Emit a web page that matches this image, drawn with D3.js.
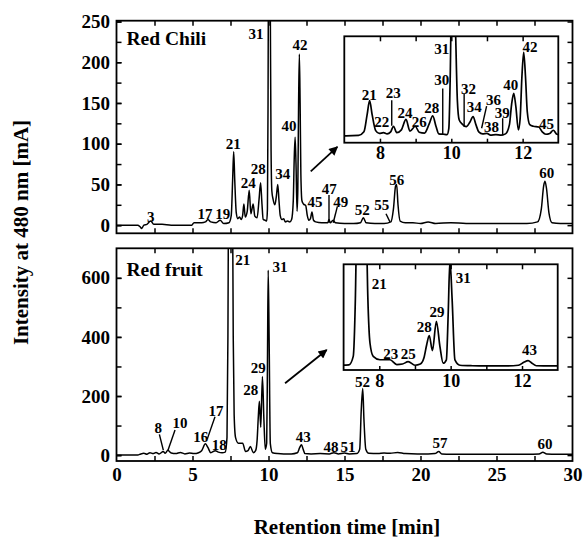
<!DOCTYPE html>
<html>
<head>
<meta charset="utf-8">
<script src="https://cdn.jsdelivr.net/npm/d3@7"></script>
<style>
  body { margin: 0; background: #fff; }
</style>
</head>
<body>
<div id="chart"></div>
<script>
// ---- data: [retention time (min), intensity (mA)] ----
const chiliTrace = [
  [0, 0], [0.8, 0], [1.4, 0], [1.55, -2], [1.66, -4], [1.8, 0], [2.0, 1], [2.25, 5], [2.45, 1],
  [3.0, 1], [3.6, 0], [4.4, 0], [4.95, 0], [5.1, 3], [5.6, 3], [5.85, 4], [6.02, 7], [6.2, 4],
  [6.55, 3], [6.82, 6], [7.05, 2], [7.4, 3], [7.55, 12], [7.64, 55], [7.71, 90], [7.78, 55],
  [7.88, 15], [7.98, 8], [8.1, 10], [8.2, 7], [8.3, 12], [8.38, 26], [8.47, 10], [8.6, 17],
  [8.73, 43], [8.84, 14], [8.99, 26], [9.1, 11], [9.25, 9], [9.38, 32], [9.48, 52], [9.57, 26],
  [9.65, 7], [9.78, 6], [9.88, 5], [9.93, 20], [9.97, 150], [10.01, 380], [10.07, 420],
  [10.12, 260], [10.17, 90], [10.22, 42], [10.3, 32], [10.42, 25], [10.52, 36], [10.61, 50],
  [10.69, 30], [10.77, 12], [10.88, 7], [11.0, 8], [11.1, 4], [11.25, 5], [11.4, 4], [11.52, 7],
  [11.63, 30], [11.69, 80], [11.75, 108], [11.81, 75], [11.88, 17], [11.93, 45], [11.98, 150],
  [12.03, 210], [12.08, 150], [12.13, 62], [12.2, 30], [12.3, 26], [12.45, 24], [12.55, 12],
  [12.65, 6], [12.76, 8], [12.86, 16], [12.96, 6], [13.1, 4], [13.5, 3], [13.9, 3], [13.98, 7],
  [14.06, 3], [14.25, 6], [14.4, 3], [15, 2], [15.6, 2], [16.05, 3], [16.24, 9], [16.42, 3],
  [17, 2], [17.6, 2], [18.05, 4], [18.22, 20], [18.36, 48], [18.43, 50], [18.52, 25], [18.66, 5],
  [19.0, 3], [19.5, 3], [20, 2], [20.5, 4], [21, 2], [22, 3], [23, 2], [24, 2], [25, 2], [26, 2],
  [27, 2], [27.7, 4], [27.95, 20], [28.1, 48], [28.19, 54], [28.29, 45], [28.45, 15], [28.65, 3],
  [29.2, 2], [30, 2]
]

const fruitTrace = [
  [0, 0], [1.4, 0], [1.6, 4], [1.8, 6], [2.0, 3], [2.2, 8], [2.4, 5], [2.6, 9], [2.8, 4],
  [3.08, 12], [3.2, 6], [3.38, 16], [3.6, 7], [3.9, 5], [4.2, 9], [4.5, 4], [4.8, 7], [5.1, 5],
  [5.4, 8], [5.6, 15], [5.85, 38], [6.02, 25], [6.2, 8], [6.5, 15], [6.7, 10], [6.95, 8],
  [7.15, 10], [7.27, 60], [7.33, 400], [7.38, 1000], [7.5, 1300], [7.62, 1000], [7.68, 400],
  [7.74, 137], [7.83, 60], [8.02, 40], [8.3, 40], [8.49, 12], [8.65, 15], [8.81, 29], [9.0, 8],
  [9.15, 15], [9.25, 50], [9.33, 130], [9.4, 182], [9.49, 94], [9.6, 266], [9.7, 117], [9.79, 20],
  [9.88, 40], [9.93, 300], [9.98, 626], [10.04, 400], [10.12, 39], [10.26, 8], [10.6, 5],
  [11.0, 4], [11.5, 4], [11.9, 8], [12.05, 25], [12.17, 35], [12.28, 20], [12.4, 5], [12.8, 4],
  [13.4, 5], [14.0, 4], [14.3, 8], [14.6, 4], [15.0, 7], [15.3, 4], [15.8, 5], [16.0, 20],
  [16.1, 150], [16.2, 225], [16.28, 120], [16.4, 20], [16.6, 6], [17.2, 5], [17.6, 7], [18.0, 6],
  [18.5, 9], [19.0, 5], [19.8, 4], [20.5, 4], [20.95, 5], [21.2, 12], [21.4, 4], [22, 3], [23, 3],
  [24, 3], [25, 3], [26, 3], [27, 3], [27.8, 4], [28.05, 10], [28.3, 4], [29, 3], [30, 3]
]

// peak labels: [text, time, intensity] in the coordinates of the panel they sit in
const chiliLabels = [
  ['3', 2.25, 10], ['17', 5.82, 14], ['19', 6.99, 14], ['21', 7.68, 100], ['24', 8.67, 52],
  ['28', 9.33, 69], ['31', 9.18, 235], ['34', 10.93, 63], ['40', 11.35, 122], ['42', 12.07, 221],
  ['45', 13.06, 28], ['47', 14.0, 44], ['49', 14.75, 29], ['52', 16.17, 18], ['55', 17.45, 25],
  ['56', 18.43, 55], ['60', 28.3, 64]
]
const chiliInsetLabels = [
  ['21', 7.7, 105], ['22', 8.05, 36], ['23', 8.37, 108], ['24', 8.7, 58], ['26', 9.1, 37],
  ['28', 9.45, 71], ['30', 9.73, 141], ['31', 9.73, 218], ['32', 10.48, 118], ['34', 10.64, 73],
  ['36', 11.18, 91], ['38', 11.13, 25], ['39', 11.43, 58], ['40', 11.67, 129], ['42', 12.21, 224],
  ['45', 12.67, 32]
]
const fruitLabels = [
  ['8', 2.75, 91], ['10', 4.18, 108], ['16', 5.54, 62], ['17', 6.55, 149], ['18', 6.76, 34],
  ['21', 8.3, 660], ['28', 8.83, 220], ['29', 9.33, 294], ['31', 10.76, 638], ['43', 12.29, 62],
  ['48', 14.11, 28], ['51', 15.23, 28], ['52', 16.18, 248], ['57', 21.28, 40], ['60', 28.19, 37]
]
const fruitInsetLabels = [
  ['21', 8.0, 485], ['23', 8.32, 74], ['25', 8.81, 74], ['28', 9.26, 234], ['29', 9.62, 322],
  ['31', 10.35, 518], ['43', 12.21, 97]
]

// leader lines: [t1, v1, t2, v2]
const chiliLeaders = [[13.98, 37, 13.98, 3], [14.53, 23, 14.26, 3], [17.73, 14, 17.99, 4]]
const chiliInsetLeaders = [
  [8.33, 91, 8.33, 27], [9.76, 120, 9.76, 4], [10.36, 106, 10.36, 25],
  [10.99, 76, 10.85, 21], [11.44, 46, 11.44, 3]
]
const fruitLeaders = [[2.82, 70, 3.08, 17], [3.85, 85, 3.37, 14], [6.48, 130, 5.97, 54]]

// arrows pointing at the insets: [t1, v1, t2, v2]
const chiliArrow = [12.78, 66, 14.53, 96]
const fruitArrow = [11.09, 243, 13.83, 356]

const xTicks = [0, 5, 10, 15, 20, 25, 30]
const xMinorTicks = d3.range(2.5, 30, 2.5)
const chiliYTicks = [0, 50, 100, 150, 200, 250]
const chiliYMinor = d3.range(0, 251, 25)
const fruitYTicks = [0, 200, 400, 600]
const fruitYMinor = d3.range(0, 601, 100)
const insetTicks = [8, 10, 12]
const insetMinor = [8, 9, 10, 11, 12]

const serif = "'Liberation Serif', 'Times New Roman', Times, 'DejaVu Serif', serif"

// ---- drawing ----
const svg = d3.select('#chart').append('svg').attr('width', 584).attr('height', 542)

const defs = svg.append('defs')
defs.append('marker')
  .attr('id', 'arrowhead')
  .attr('viewBox', '0 0 10 10')
  .attr('refX', 9).attr('refY', 5)
  .attr('markerWidth', 11).attr('markerHeight', 9)
  .attr('markerUnits', 'userSpaceOnUse')
  .attr('orient', 'auto')
  .append('path').attr('d', 'M0,0 L10,5 L0,10 z').attr('fill', '#000')

const x = d3.scaleLinear().domain([0, 30]).range([116.5, 572.5])
const intFormat = d3.format('d')

function tidy(sel, size) {
  sel.select('.domain').remove()
  sel.selectAll('.tick line').attr('stroke', '#000').attr('stroke-width', 1.5)
  sel.attr('font-size', size)
  sel.selectAll('.tick text').attr('fill', '#000')
}

function drawTrace(g, data, xs, ys, id, sw) {
  const [xa, xb] = xs.range()
  const [yb, ya] = ys.range()
  defs.append('clipPath').attr('id', id)
    .append('rect').attr('x', xa).attr('y', ya).attr('width', xb - xa).attr('height', yb - ya)
  g.append('path')
    .datum(data)
    .attr('clip-path', `url(#${id})`)
    .attr('fill', 'none')
    .attr('stroke', '#000')
    .attr('stroke-width', sw)
    .attr('stroke-linejoin', 'round')
    .attr('d', d3.line().x((d) => xs(d[0])).y((d) => ys(d[1])).curve(d3.curveMonotoneX))
}

function drawLabels(g, labels, xs, ys, size) {
  g.selectAll(null)
    .data(labels)
    .join('text')
    .attr('x', (d) => xs(d[1]))
    .attr('y', (d) => ys(d[2]))
    .attr('text-anchor', 'middle')
    .attr('dominant-baseline', 'central')
    .attr('font-size', size)
    .text((d) => d[0])
}

function drawLeaders(g, leaders, xs, ys) {
  g.selectAll(null)
    .data(leaders)
    .join('line')
    .attr('x1', (d) => xs(d[0])).attr('y1', (d) => ys(d[1]))
    .attr('x2', (d) => xs(d[2])).attr('y2', (d) => ys(d[3]))
    .attr('stroke', '#000').attr('stroke-width', 1.4)
}

function drawPanel(p) {
  const g = svg.append('g')
  const y = p.y
  const [yBottom, yTop] = y.range()
  const [xl, xr] = x.range()

  // ticks (inward on all four sides)
  g.append('g').attr('transform', `translate(${xl},0)`)
    .call(d3.axisLeft(y).tickValues(p.yMinor).tickFormat('').tickSize(-5)).call(tidy, 19)
  g.append('g').attr('transform', `translate(${xl},0)`)
    .call(d3.axisLeft(y).tickValues(p.yTicks).tickFormat(intFormat).tickSize(-5).tickPadding(6.5)).call(tidy, 19)
  g.append('g').attr('transform', `translate(${xr},0)`)
    .call(d3.axisRight(y).tickValues(p.yMinor).tickFormat('').tickSize(-5)).call(tidy, 19)
  g.append('g').attr('transform', `translate(0,${yTop})`)
    .call(d3.axisTop(x).tickValues(xMinorTicks).tickFormat('').tickSize(-5)).call(tidy, 19)
  g.append('g').attr('transform', `translate(0,${yBottom})`)
    .call(d3.axisBottom(x).tickValues(xMinorTicks).tickFormat('').tickSize(-5)).call(tidy, 19)
  if (p.xLabels) {
    g.append('g').attr('transform', `translate(0,${yBottom})`)
      .call(d3.axisBottom(x).tickValues(xTicks).tickFormat(intFormat).tickSize(0).tickPadding(6.5)).call(tidy, 19)
  }

  drawTrace(g, p.trace, x, y, p.id + '-clip', 1.5)
  drawLeaders(g, p.leaders, x, y)
  drawLabels(g, p.labels, x, y, 15)

  // frame
  g.append('rect')
    .attr('x', xl).attr('y', yTop).attr('width', xr - xl).attr('height', yBottom - yTop)
    .attr('fill', 'none').attr('stroke', '#000').attr('stroke-width', 1.8)

  g.append('text')
    .attr('x', 126.5).attr('y', yTop + p.nameOffset)
    .attr('font-size', 19.5)
    .text(p.name)

  // arrow towards the inset
  g.append('line')
    .attr('x1', x(p.arrow[0])).attr('y1', y(p.arrow[1]))
    .attr('x2', x(p.arrow[2])).attr('y2', y(p.arrow[3]))
    .attr('stroke', '#000').attr('stroke-width', 1.8)
    .attr('marker-end', 'url(#arrowhead)')

  // inset: zoom of 7-13 min
  const ix = d3.scaleLinear().domain([7, 13]).range(p.insetX)
  const iy = p.insetY
  const [iyBottom, iyTop] = iy.range()
  const ig = g.append('g')
  ig.append('rect')
    .attr('x', p.insetX[0]).attr('y', iyTop)
    .attr('width', p.insetX[1] - p.insetX[0]).attr('height', iyBottom - iyTop)
    .attr('fill', '#fff')
  ig.append('g').attr('transform', `translate(0,${iyTop})`)
    .call(d3.axisTop(ix).tickValues(insetMinor).tickFormat('').tickSize(-5)).call(tidy, 18)
  ig.append('g').attr('transform', `translate(0,${iyBottom})`)
    .call(d3.axisBottom(ix).tickValues(insetMinor).tickFormat('').tickSize(-4)).call(tidy, 18)
  ig.append('g').attr('transform', `translate(0,${iyBottom})`)
    .call(d3.axisBottom(ix).tickValues(insetTicks).tickFormat(intFormat).tickSize(0).tickPadding(p.insetPad)).call(tidy, 18)
  drawTrace(ig, p.trace, ix, iy, p.id + '-inset-clip', 1.7)
  drawLeaders(ig, p.insetLeaders, ix, iy)
  drawLabels(ig, p.insetLabels, ix, iy, 15)
  ig.append('rect')
    .attr('x', p.insetX[0]).attr('y', iyTop)
    .attr('width', p.insetX[1] - p.insetX[0]).attr('height', iyBottom - iyTop)
    .attr('fill', 'none').attr('stroke', '#000').attr('stroke-width', 1.8)
}

drawPanel({
  id: 'chili',
  name: 'Red Chili',
  nameOffset: 24,
  y: d3.scaleLinear().domain([-10, 251]).range([233.3, 20.7]),
  yTicks: chiliYTicks,
  yMinor: chiliYMinor,
  xLabels: false,
  trace: chiliTrace,
  labels: chiliLabels,
  leaders: chiliLeaders,
  arrow: chiliArrow,
  insetX: [344.3, 558.3],
  insetY: d3.scaleLinear().domain([-15, 250]).range([142.7, 36.3]),
  insetPad: 3.5,
  insetLabels: chiliInsetLabels,
  insetLeaders: chiliInsetLeaders
})

drawPanel({
  id: 'fruit',
  name: 'Red fruit',
  nameOffset: 28,
  y: d3.scaleLinear().domain([-20, 700]).range([461, 248.3]),
  yTicks: fruitYTicks,
  yMinor: fruitYMinor,
  xLabels: true,
  trace: fruitTrace,
  labels: fruitLabels,
  leaders: fruitLeaders,
  arrow: fruitArrow,
  insetX: [343.6, 557.7],
  insetY: d3.scaleLinear().domain([-20, 600]).range([370, 264.3]),
  insetPad: 4,
  insetLabels: fruitInsetLabels,
  insetLeaders: []
})

// axis titles
svg.append('text')
  .attr('transform', 'translate(27.5,232.5) rotate(-90)')
  .attr('text-anchor', 'middle')
  .attr('font-size', 21)
  .text('Intensity at 480 nm [mA]')

svg.append('text')
  .attr('x', 347).attr('y', 534)
  .attr('text-anchor', 'middle')
  .attr('font-size', 21)
  .text('Retention time [min]')

// serif bold everywhere, set inline so it wins over the axis defaults
svg.selectAll('text').style('font-family', serif).style('font-weight', 'bold')
</script>
</body>
</html>
